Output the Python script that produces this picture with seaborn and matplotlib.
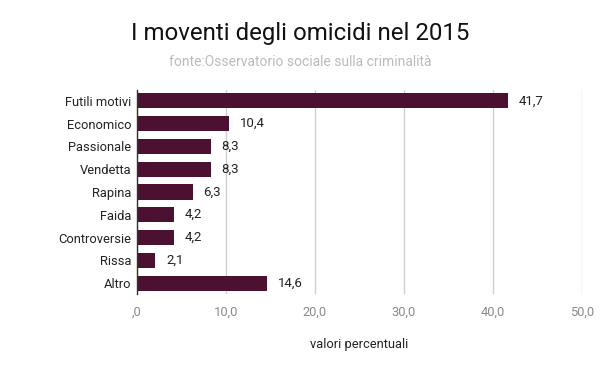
import matplotlib
matplotlib.use("Agg")
import matplotlib.pyplot as plt
import seaborn as sns
import pandas as pd

categories = ["Futili motivi", "Economico", "Passionale", "Vendetta", "Rapina",
              "Faida", "Controversie", "Rissa", "Altro"]
values = [41.7, 10.4, 8.3, 8.3, 6.3, 4.2, 4.2, 2.1, 14.6]
value_labels = ["41,7", "10,4", "8,3", "8,3", "6,3", "4,2", "4,2", "2,1", "14,6"]
xticks = [0, 10, 20, 30, 40, 50]
xtick_labels = [",0", "10,0", "20,0", "30,0", "40,0", "50,0"]

sns.set_theme(style="white")
plt.rcParams['font.family'] = ['Roboto', 'DejaVu Sans']

df = pd.DataFrame({"cat": categories, "val": values})

fig = plt.figure(figsize=(6, 3.71), dpi=100)
ax = fig.add_axes([0.228, 0.2065, 0.742, 0.552])
sns.barplot(data=df, x="val", y="cat", color="#4c1130", saturation=1,
            width=0.66, ax=ax, zorder=3, linewidth=0)

ax.set_xlim(0, 50)
ax.set_ylim(len(categories) - 0.5, -0.5)
ax.set_xticks(xticks)
ax.set_xticklabels(xtick_labels, color="#8a8a8a", fontsize=9.3)
ax.tick_params(axis="x", length=0, pad=8)
ax.tick_params(axis="y", length=0, pad=4, labelsize=9.3, labelcolor="#222222")
ax.grid(axis="x", color="#d0d0d0", linewidth=1, zorder=0)
ax.grid(axis="y", visible=False)
for s in ["top", "right", "bottom"]:
    ax.spines[s].set_visible(False)
ax.spines["left"].set_color("#333333")
ax.spines["left"].set_linewidth(1)
ax.spines["left"].set_zorder(4)
ax.set_ylabel("")
ax.set_xlabel("valori percentuali", fontsize=9.3, color="#222222", labelpad=14)

for i, (v, lab) in enumerate(zip(values, value_labels)):
    ax.text(v + 1.2, i, lab, va="center", ha="left", fontsize=9.5, color="#222222")

fig.text(0.5, 0.91, "I moventi degli omicidi nel 2015", ha="center", va="center",
         fontsize=17.3, color="#111111")
fig.text(0.5, 0.833, "fonte:Osservatorio sociale sulla criminalità", ha="center",
         va="center", fontsize=10, color="#bbbbbb")

fig.savefig("out.png", dpi=100, facecolor="white")
